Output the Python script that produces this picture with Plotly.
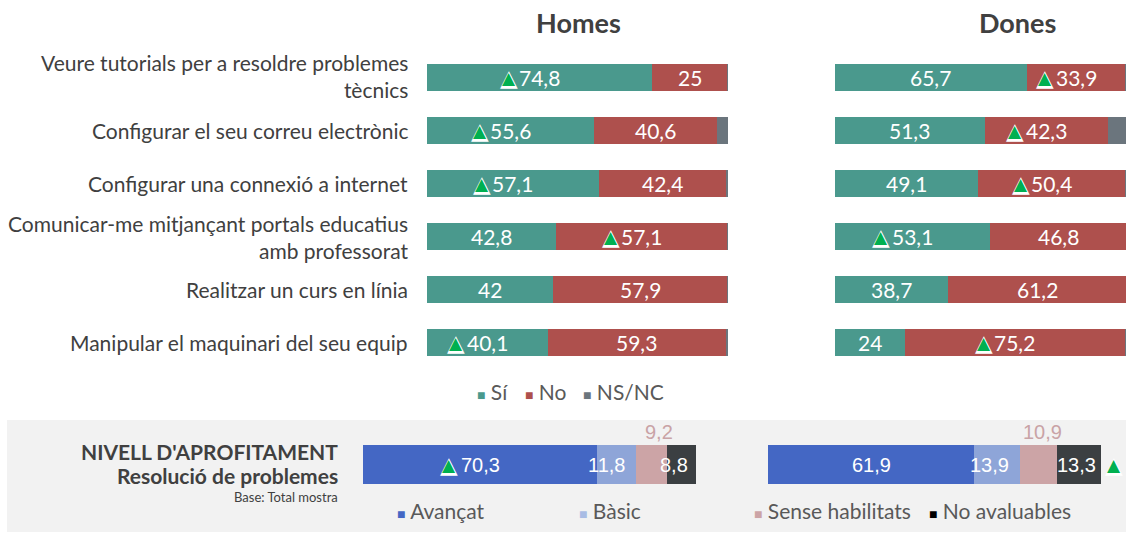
import plotly.graph_objects as go

W, H = 1126, 533

# ---------------- data ----------------
categories = [
    "Veure tutorials per a resoldre problemes<br>tècnics",
    "Configurar el seu correu electrònic",
    "Configurar una connexió a internet",
    "Comunicar-me mitjançant portals educatius<br>amb professorat",
    "Realitzar un curs en línia",
    "Manipular el maquinari del seu equip",
]
answer_names = ["Sí", "No", "NS/NC"]

homes_si = [74.8, 55.6, 57.1, 42.8, 42.0, 40.1]
homes_no = [25.0, 40.6, 42.4, 57.1, 57.9, 59.3]
homes_nsnc = [0.2, 3.8, 0.5, 0.1, 0.1, 0.6]
dones_si = [65.7, 51.3, 49.1, 53.1, 38.7, 24.0]
dones_no = [33.9, 42.3, 50.4, 46.8, 61.2, 75.2]
dones_nsnc = [0.4, 6.4, 0.5, 0.1, 0.1, 0.8]

# significance flags (green triangle)
homes_si_flag = [1, 1, 1, 0, 0, 1]
homes_no_flag = [0, 0, 0, 1, 0, 0]
dones_si_flag = [0, 0, 0, 1, 0, 0]
dones_no_flag = [1, 1, 1, 0, 0, 1]

level_names = ["Avançat", "Bàsic", "Sense habilitats", "No avaluables"]
level_category = ["Resolució de problemes"]
homes_level = [70.3, 11.8, 9.2, 8.8]
dones_level = [61.9, 13.9, 10.9, 13.3]
homes_level_flag = [1, 0, 0, 0]
dones_level_total_flag = 1

# ---------------- styles ----------------
answer_colors = ["#4A998D", "#AE504D", "#6B757D"]
level_colors = ["#4467C4", "#8EA5D8", "#CCA4A6", "#3B3F42"]
level_legend_colors = ["#4467C4", "#A9BCE4", "#CCA4A6", "#000000"]
level_label_colors = ["white", "white", "#C9A3A6", "white"]
level_label_outside = [False, False, True, False]
homes_level_xshift = [0, -10, 7, -8]
dones_level_xshift = [0, -8, 4, -2]
TXT = "#404040"
LEG = "#595959"
GREEN = "#00B050"
FONT = "Lato"


def px(v):
    return v / W


def py(v):
    return 1 - v / H


def fmt(v):
    s = f"{v:.1f}"
    if s.endswith(".0"):
        s = s[:-2]
    return s.replace(".", ",")


fig = go.Figure()
annotations = []


def add_triangle(xref, yref, x, y, xshift):
    annotations.append(dict(x=x, y=y, xref=xref, yref=yref, text="▲", showarrow=False,
                            xanchor="center", yanchor="middle", xshift=xshift,
                            font=dict(family="DejaVu Sans", size=23, color="white")))
    annotations.append(dict(x=x, y=y, xref=xref, yref=yref, text="▲", showarrow=False,
                            xanchor="center", yanchor="middle", xshift=xshift,
                            font=dict(family="DejaVu Sans", size=17, color=GREEN)))


# ---------------- top stacked bars ----------------
panels = [
    ("x", [homes_si, homes_no, homes_nsnc], [homes_si_flag, homes_no_flag, None]),
    ("x2", [dones_si, dones_no, dones_nsnc], [dones_si_flag, dones_no_flag, None]),
]
for xa, series, flags in panels:
    for k, (name, color, vals) in enumerate(zip(answer_names, answer_colors, series)):
        fig.add_trace(go.Bar(
            y=categories, x=vals, orientation="h", name=name,
            marker=dict(color=color, line=dict(width=0)),
            xaxis=xa, yaxis="y", showlegend=False, hoverinfo="skip",
        ))
    for k in range(2):
        for i in range(len(categories)):
            start = sum(series[j][i] for j in range(k))
            cx = start + series[k][i] / 2
            annotations.append(dict(x=cx, y=i, xref=xa, yref="y", text=fmt(series[k][i]),
                                    xanchor="center", yanchor="middle", showarrow=False,
                                    font=dict(family=FONT, size=21, color="white")))
            if flags[k][i]:
                add_triangle(xa, "y", cx, i, -31)

# ---------------- bottom stacked bars ----------------
bottom = [
    ("x3", homes_level, homes_level_xshift),
    ("x4", dones_level, dones_level_xshift),
]
for xa, vals, shifts in bottom:
    for k, (name, color) in enumerate(zip(level_names, level_colors)):
        fig.add_trace(go.Bar(
            y=level_category, x=[vals[k]], orientation="h", name=name,
            marker=dict(color=color, line=dict(width=0)),
            xaxis=xa, yaxis="y2", showlegend=False, hoverinfo="skip",
        ))
        start = sum(vals[:k])
        cx = start + vals[k] / 2
        if level_label_outside[k]:
            annotations.append(dict(x=cx, y=0.25, xref=xa, yref="y2", text=fmt(vals[k]),
                                    xanchor="center", yanchor="bottom", xshift=shifts[k],
                                    showarrow=False,
                                    font=dict(family="Liberation Sans", size=20,
                                              color=level_label_colors[k])))
        else:
            annotations.append(dict(x=cx, y=0, xref=xa, yref="y2", text=fmt(vals[k]),
                                    xanchor="center", yanchor="middle", xshift=shifts[k],
                                    showarrow=False,
                                    font=dict(family="Liberation Sans", size=20,
                                              color=level_label_colors[k])))
    if xa == "x3":
        for k in range(len(vals)):
            if homes_level_flag[k]:
                add_triangle(xa, "y2", sum(vals[:k]) + vals[k] / 2, 0, -31)
    else:
        if dones_level_total_flag:
            add_triangle(xa, "y2", sum(vals), 0, 13)

# ---------------- category labels ----------------
for i, c in enumerate(categories):
    annotations.append(dict(x=px(410), y=i, xref="paper", yref="y", text=c,
                            xanchor="right", yanchor="middle", align="right", showarrow=False,
                            yshift=2 if i == 0 else 0,
                            font=dict(family=FONT, size=21, color=TXT)))

# ---------------- titles ----------------
def paper_text(x, y, text, size, bold=False, xanchor="center", color=TXT):
    annotations.append(dict(x=px(x), y=py(y), xref="paper", yref="paper", text=text,
                            xanchor=xanchor, yanchor="middle", showarrow=False,
                            font=dict(family=FONT, size=size, color=color,
                                      weight="bold" if bold else "normal")))


paper_text(578, 23, "Homes", 27, bold=True)
paper_text(1017, 23, "Dones", 27, bold=True)
paper_text(340, 451, "NIVELL D'APROFITAMENT", 21, bold=True, xanchor="right")
paper_text(340, 475, "Resolució de problemes", 21, bold=True, xanchor="right")
paper_text(340, 497, "Base: Total mostra", 13, xanchor="right")


# ---------------- legends (manual) ----------------
def legend_item(x, y, color, label):
    annotations.append(dict(
        x=px(x), y=py(y), xref="paper", yref="paper", xanchor="left", yanchor="middle",
        showarrow=False,
        text=f"<span style='color:{color};font-size:14px'>■</span> {label}",
        font=dict(family=FONT, size=21, color=LEG)))


for x, color, label in zip([475, 523, 581], answer_colors, answer_names):
    legend_item(x, 391, color, label)
for x, color, label in zip([395, 577, 752, 927], level_legend_colors, level_names):
    legend_item(x, 511, color, label)

# ---------------- layout ----------------
fig.update_layout(
    width=W, height=H,
    margin=dict(l=0, r=0, t=0, b=0),
    paper_bgcolor="white", plot_bgcolor="rgba(0,0,0,0)",
    barmode="stack", bargap=0.5,
    showlegend=False,
    annotations=annotations,
    shapes=[dict(type="rect", xref="paper", yref="paper", x0=px(7), x1=1, y0=py(532), y1=py(420),
                 fillcolor="#F2F2F2", line=dict(width=0), layer="below")],
    xaxis=dict(domain=[px(427), px(728)], range=[0, 100], visible=False, anchor="y", fixedrange=True),
    xaxis2=dict(domain=[px(835), 1], range=[0, 99.7], visible=False, anchor="y", fixedrange=True),
    yaxis=dict(domain=[py(369), py(51)], range=[5.5, -0.5], type="category",
               categoryorder="array", categoryarray=categories, visible=False, fixedrange=True),
    xaxis3=dict(domain=[px(363), px(696)], range=[0, 100], visible=False, anchor="y2", fixedrange=True),
    xaxis4=dict(domain=[px(768), px(1101)], range=[0, 100], visible=False, anchor="y2", fixedrange=True),
    yaxis2=dict(domain=[py(503.5), py(425.5)], range=[-0.5, 0.5], type="category",
                visible=False, fixedrange=True),
)

fig.write_html("out.html", config={"displayModeBar": False},
               post_script="document.body.style.margin='0';document.body.style.overflow='hidden';")
